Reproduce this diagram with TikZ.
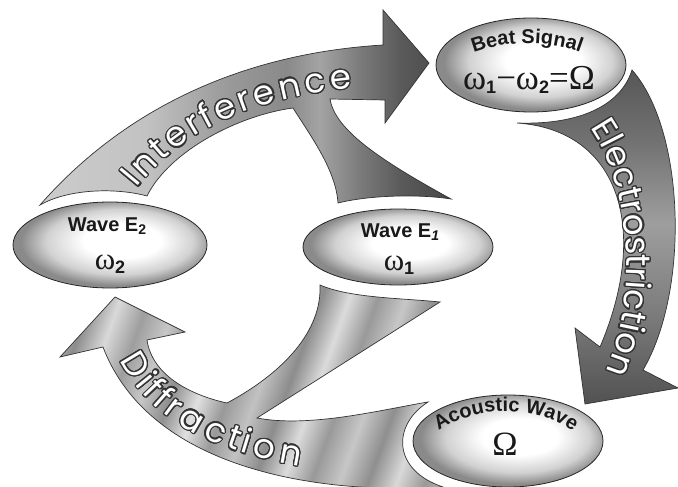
\documentclass[tikz,border=0pt]{standalone}
\usepackage{fontspec}
\setmainfont{Liberation Sans}
\newfontfamily\omegafont{Liberation Serif}
\newfontfamily\arrowfont{Poppins}
\usepackage[copies]{contour}
\contourlength{1.2pt}
\contournumber{24}
\usetikzlibrary{shapes.geometric, decorations.text}
\pgfdeclareradialshading{glass}{\pgfpoint{4bp}{3bp}}{color(0bp)=(white); color(10bp)=(white); color(19bp)=(black!18); color(25bp)=(black!46); color(50bp)=(black!46)}
\pgfdeclarehorizontalshading{interf}{100bp}{color(0bp)=(black!20); color(25bp)=(black!20); color(38bp)=(black!24); color(48bp)=(black!40); color(55bp)=(black!46); color(59bp)=(black!36); color(64bp)=(black!52); color(69bp)=(black!65); color(75bp)=(black!72); color(100bp)=(black!72)}
\pgfdeclareverticalshading{electro}{100bp}{color(0bp)=(black!68); color(25bp)=(black!68); color(38bp)=(black!52); color(52bp)=(black!38); color(64bp)=(black!55); color(75bp)=(black!66); color(100bp)=(black!66)}
\pgfdeclarehorizontalshading{metal}{100bp}{color(0bp)=(black!38); color(4bp)=(black!20); color(7bp)=(black!42); color(11bp)=(black!12); color(15bp)=(black!40); color(19bp)=(black!25); color(23bp)=(black!45); color(27bp)=(black!15); color(31bp)=(black!38); color(35bp)=(black!22); color(39bp)=(black!44); color(43bp)=(black!12); color(47bp)=(black!40); color(51bp)=(black!24); color(55bp)=(black!45); color(59bp)=(black!14); color(63bp)=(black!40); color(67bp)=(black!22); color(71bp)=(black!44); color(75bp)=(black!15); color(79bp)=(black!40); color(83bp)=(black!24); color(87bp)=(black!44); color(91bp)=(black!14); color(95bp)=(black!40); color(100bp)=(black!30)}
\newcommand{\idx}[1]{\raisebox{-4pt}{\normalfont\bfseries\fontsize{18}{18}\selectfont #1}}
\newcommand{\smallidx}[1]{\raisebox{-3pt}{\fontsize{14}{14}\selectfont #1}}
\tikzset{bubble/.style = {ellipse, inner sep = 0, shade, shading = glass, draw = black!85, line width = 0.8, preaction = {draw = white, line width = 10}}}
\tikzset{band/.style = {shade, draw = black!80, line width = 0.7}}
\tikzset{tag/.style = {font = \bfseries\fontsize{20}{20}\selectfont, anchor = base, inner sep = 0, text = black!90}}
\tikzset{freq/.style = {font = \omegafont\fontsize{31}{31}\selectfont, anchor = base, inner sep = 0, text = black!90}}
\tikzset{archtext/.style = {decorate, decoration = {text along path, text align = center, text = {|\bfseries\fontsize{20}{20}\selectfont\color{black!90}|#1}}}}
\tikzset{flowtext/.style = {decorate, decoration = {text effects along path, text = {#1}, text effects/.cd, text along path, fit text to path, characters = {text = white, font = \arrowfont\fontsize{34}{34}\selectfont}, character command = \contour{black!80}}}}

\begin{document}
\begin{tikzpicture}[x = 1pt, y = -1pt]
    \useasboundingbox (0, 0) rectangle (678, 487);

    \path [band, shading = interf] (40, 205) .. controls (110, 125) and (220, 55) .. (383, 45) -- (383, 10) -- (429, 63) -- (385, 123) -- (385, 100) -- (330, 99) .. controls (335, 130) and (380, 160) .. (451, 199) .. controls (420, 194) and (370, 195) .. (338, 203) .. controls (336, 170) and (310, 135) .. (293, 108) .. controls (240, 115) and (170, 150) .. (147, 196) .. controls (118, 188) and (70, 188) .. (40, 205) -- cycle;
    \path [band, shading = electro] (517, 123) .. controls (620, 130) and (650, 230) .. (600, 347) -- (575, 328) -- (585, 404) -- (678, 388) -- (643, 370) .. controls (690, 290) and (685, 130) .. (632, 70) .. controls (620, 108) and (575, 125) .. (517, 123) -- cycle;
    \path [band, shading = metal, shading angle = -20] (103, 347) -- (60, 357) -- (115, 297) -- (185, 332) -- (147, 340) .. controls (152, 375) and (190, 395) .. (227, 403) .. controls (285, 372) and (322, 330) .. (320, 285) .. controls (350, 298) and (400, 298) .. (440, 302) -- (257, 418) .. controls (310, 428) and (380, 410) .. (428, 402) .. controls (392, 425) and (392, 470) .. (443, 487) .. controls (320, 495) and (150, 470) .. (103, 347) -- cycle;

    \path [flowtext = {Interference}] (137, 188) .. controls (185, 128) and (255, 98) .. (352, 88);
    \path [flowtext = {Electrostriction}] (590, 128) .. controls (630, 185) and (640, 290) .. (606, 372);
    \path [flowtext = {Diffraction}] (120, 360) .. controls (150, 420) and (215, 452) .. (300, 466);

    \node [bubble, minimum width = 190, minimum height = 94] (beat) at (531, 65) {};
    \node [bubble, minimum width = 194, minimum height = 86] (wavetwo) at (110, 245) {};
    \node [bubble, minimum width = 190, minimum height = 76] (waveone) at (398, 247) {};
    \node [bubble, minimum width = 190, minimum height = 92] (acoustic) at (508, 441) {};

    \path [archtext = {Beat Signal}] (458, 60) .. controls (495, 38) and (559, 38) .. (596, 60);
    \node [freq, font = \omegafont\fontsize{35}{35}\selectfont] (beatfreq) at (529, 90) {ω\idx{1}−ω\idx{2}=Ω};
    \node [tag] (wavetwolabel) at (107, 231) {Wave E\smallidx{2}};
    \node [freq] (wavetwofreq) at (110, 269) {ω\idx{2}};
    \node [tag] (waveonelabel) at (400, 237) {Wave E\smallidx{\itshape 1}};
    \node [freq] (waveonefreq) at (399, 270) {ω\idx{1}};
    \path [archtext = {Acoustic Wave}] (426, 442) .. controls (466, 401) and (545, 401) .. (586, 442);
    \node [freq, font = \omegafont\fontsize{34}{34}\selectfont] (acousticfreq) at (505, 455) {Ω};
\end{tikzpicture}
\end{document}
